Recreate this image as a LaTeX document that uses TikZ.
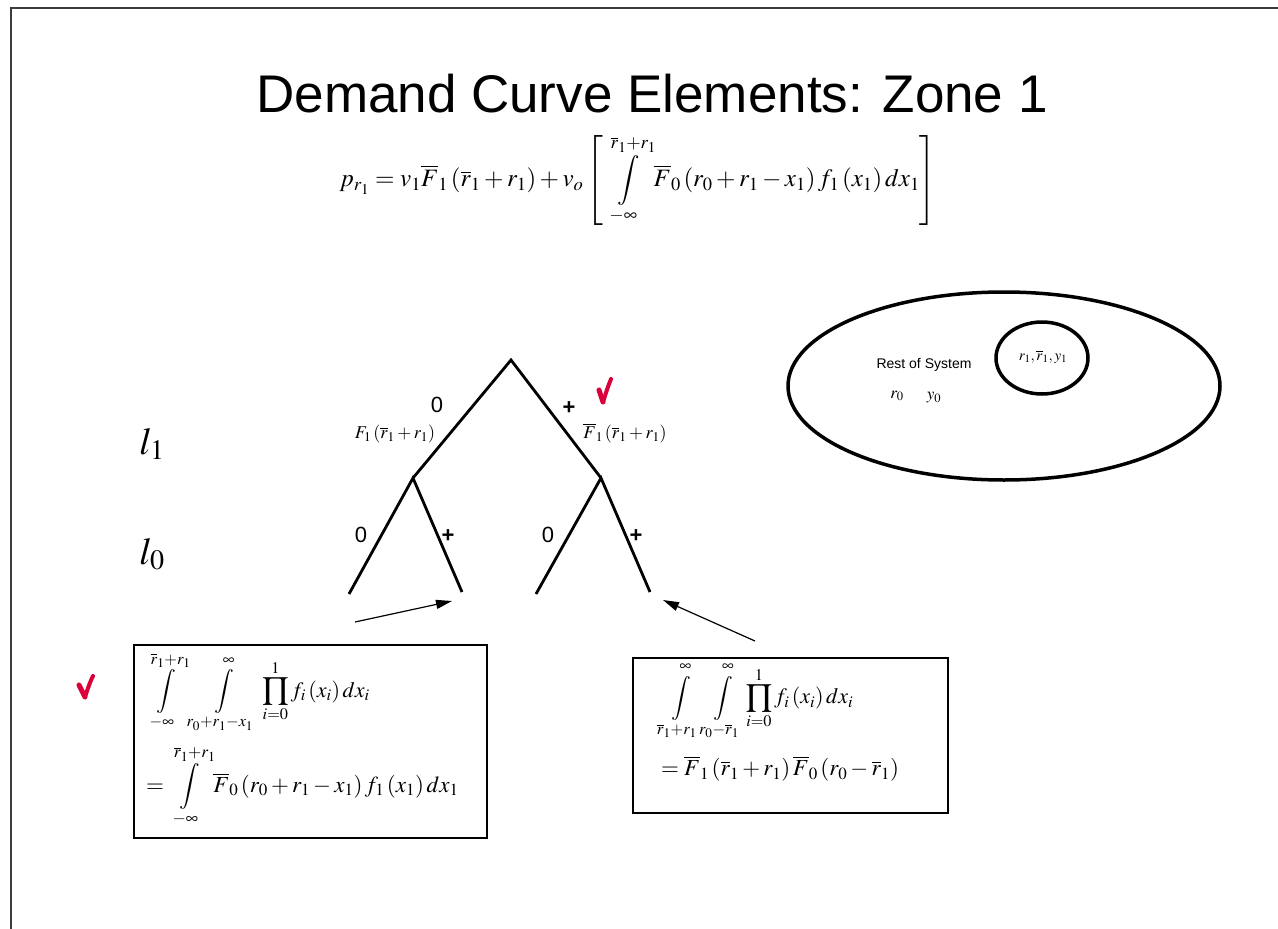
\documentclass[tikz,border=0pt]{standalone}
\usepackage{mathptmx}
\usepackage[no-math]{fontspec}
\setmainfont{Liberation Sans}
\usetikzlibrary{arrows.meta,shapes.geometric}
\definecolor{checkred}{RGB}{218,0,58}
\definecolor{framegray}{RGB}{60,60,60}
\newcommand{\uplim}[1]{#1\rule[-3pt]{0pt}{0pt}}
\newcommand{\lowlim}[1]{\rule{0pt}{9pt}#1}
\begin{document}
\begin{tikzpicture}[x=1pt,y=-1pt,
  treeline/.style={line width=2.8pt},
  branchlabel/.style={font=\fontsize{22}{24}\selectfont},
  boxstyle/.style={draw,line width=1.2pt,inner sep=0pt},
  ptr/.style={line width=1.2pt,-{Triangle[length=16pt,width=9pt]}},
  ovalstyle/.style={draw,line width=3.5pt,ellipse,inner sep=0pt,line join=round},
  tick/.style={checkred,line cap=round,line join=round}
]
\useasboundingbox (0,0) rectangle (1278,929);
\fill[white] (0,0) rectangle (1278,929);
\draw[framegray,line width=1.5pt] (11,929) -- (11,8) -- (1278,8);

% title
\node (title) at (652,94) {\fontsize{53}{58}\selectfont Demand Curve Elements: Zone 1};

% main formula
\node (formula) at (638,180) {\fontsize{25}{29}\selectfont $\displaystyle p_{r_1}=v_1\overline{F}_1\left(\overline{r}_1+r_1\right)+v_o\left[\,\int\limits_{\lowlim{-\infty}}^{\uplim{\overline{r}_1+r_1}}\overline{F}_0\left(r_0+r_1-x_1\right)f_1\left(x_1\right)dx_1\right]$};

% tree
\coordinate (root) at (511,360);
\coordinate (nl) at (413,478);
\coordinate (nr) at (601,478);
\coordinate (ll) at (349,594);
\coordinate (lr) at (462,592);
\coordinate (rl) at (536,594);
\coordinate (rr) at (650,592);
\draw[treeline,line join=miter] (nl) -- (root) -- (nr);
\draw[treeline] (ll) -- (nl) -- (lr);
\draw[treeline] (rl) -- (nr) -- (rr);

\node[branchlabel] (z1) at (437,405) {0};
\node[branchlabel] (p1) at (569,408) {\textbf{+}};
\node[branchlabel] (z2) at (361,535) {0};
\node[branchlabel] (p2) at (448,536) {\textbf{+}};
\node[branchlabel] (z3) at (548,535) {0};
\node[branchlabel] (p3) at (636,536) {\textbf{+}};

\node (fl) at (395,434) {\fontsize{18}{21}\selectfont $F_1\left(\overline{r}_1+r_1\right)$};
\node (fr) at (625,433) {\fontsize{18}{21}\selectfont $\overline{F}_1\left(\overline{r}_1+r_1\right)$};

\node (l1) at (152,444) {\fontsize{38}{42}\selectfont $l_1$};
\node (l0) at (152,554) {\fontsize{38}{42}\selectfont $l_0$};

% boxes
\node[boxstyle,minimum width=353pt,minimum height=193pt] (boxL) at (310.5,741.5) {};
\node[boxstyle,minimum width=315pt,minimum height=155pt] (boxR) at (790.5,735.5) {};

\node[anchor=west,inner sep=0pt] (eqL1) at (146,692) {\fontsize{22}{25}\selectfont $\displaystyle \int\limits_{\lowlim{-\infty}}^{\uplim{\overline{r}_1+r_1}}\,\int\limits_{\lowlim{r_0+r_1-x_1}}^{\uplim{\infty}}\,\prod_{i=0}^{1}f_i\left(x_i\right)dx_i$};
\node[anchor=west,inner sep=0pt] (eqL2) at (146,786) {\fontsize{23}{26}\selectfont $\displaystyle =\int\limits_{\lowlim{-\infty}}^{\uplim{\overline{r}_1+r_1}}\overline{F}_0\left(r_0+r_1-x_1\right)f_1\left(x_1\right)dx_1$};

\node[anchor=west,inner sep=0pt] (eqR1) at (661,701) {\fontsize{22}{25}\selectfont $\displaystyle \int\limits_{\lowlim{\overline{r}_1+r_1}}^{\uplim{\infty}}\int\limits_{\lowlim{r_0-\overline{r}_1}}^{\uplim{\infty}}\prod_{i=0}^{1}f_i\left(x_i\right)dx_i$};
\node[anchor=west,inner sep=0pt] (eqR2) at (661,769) {\fontsize{23}{26}\selectfont $\displaystyle =\overline{F}_1\left(\overline{r}_1+r_1\right)\overline{F}_0\left(r_0-\overline{r}_1\right)$};

% arrows
\coordinate (aLs) at (355,622);
\coordinate (aLe) at (452,601);
\coordinate (aRs) at (755,641);
\coordinate (aRe) at (663,600);
\draw[ptr] (aLs) -- (aLe);
\draw[ptr] (aRs) -- (aRe);

% system ellipses
\node[ovalstyle,minimum width=432pt,minimum height=188pt] (sys) at (1004,386) {};
\node[ovalstyle,minimum width=92pt,minimum height=72pt] (sub) at (1042,358) {};
\node (rest) at (924,365) {\fontsize{14}{16}\selectfont Rest of System};
\node (r0) at (897,396) {\fontsize{17}{19}\selectfont $r_0$};
\node (y0) at (934,398) {\fontsize{17}{19}\selectfont $y_0$};
\node (inner) at (1043,357) {\fontsize{15}{17}\selectfont $r_1,\overline{r}_1,y_1$};

% check marks
\draw[tick,line width=5pt] (79,685) -- (85,697);
\draw[tick,line width=4pt] (85,697) .. controls (88,688) and (90,682) .. (93,676);
\draw[tick,line width=5pt] (599,390) -- (603,402);
\draw[tick,line width=4pt] (603,402) .. controls (606,393) and (608,386) .. (611,379);
\end{tikzpicture}
\end{document}
